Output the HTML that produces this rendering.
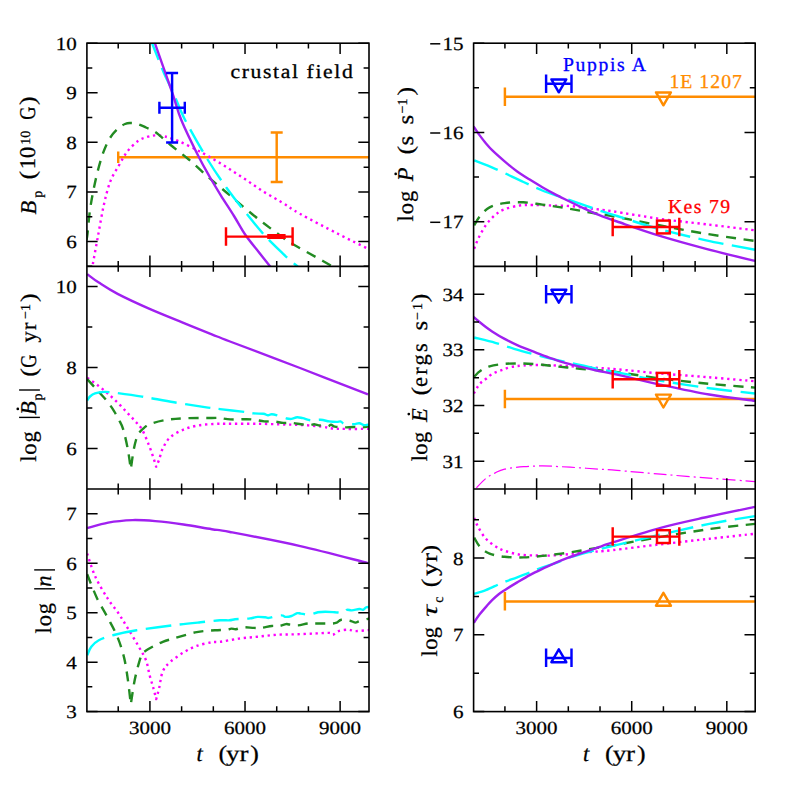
<!DOCTYPE html>
<html><head><meta charset="utf-8"><title>chart</title>
<style>
html,body{margin:0;padding:0;background:#fff;}
body{width:797px;height:797px;overflow:hidden;}
svg{display:block;opacity:0.999;}
.tk{font-family:"Liberation Serif",serif;font-size:18.6px;fill:#000;stroke:#000;stroke-width:0.25px;}
text{text-rendering:geometricPrecision;}
.sf{font-family:"Liberation Serif",serif;}
</style></head><body>
<svg width="797" height="797" viewBox="0 0 797 797">
<rect width="797" height="797" fill="#fff"/>
<defs>
<clipPath id="cTL"><rect x="86.9" y="43.2" width="282.10" height="223.10"/></clipPath>
<clipPath id="cML"><rect x="86.9" y="266.3" width="282.10" height="222.70"/></clipPath>
<clipPath id="cBL"><rect x="86.9" y="489.0" width="282.10" height="222.60"/></clipPath>
<clipPath id="cTR"><rect x="473.6" y="43.2" width="281.60" height="223.10"/></clipPath>
<clipPath id="cMR"><rect x="473.6" y="266.3" width="281.60" height="222.70"/></clipPath>
<clipPath id="cBR"><rect x="473.6" y="489.0" width="281.60" height="222.60"/></clipPath>
</defs>
<g clip-path="url(#cTL)">
<path d="M118.2,157.2H374.0 M118.2,151.5v11.5" stroke="#ff8c00" stroke-width="2.45" fill="none"/>
<path d="M276.7,132.4V182.0 M270.7,132.4h12 M270.7,182.0h12" stroke="#ff8c00" stroke-width="2.45" fill="none"/>
<path d="M92.0,270.0 C92.1,269.1 91.8,270.0 92.8,264.4 C93.8,258.8 96.1,246.2 97.9,236.6 C99.7,226.9 101.5,215.6 103.5,206.5 C105.5,197.4 107.6,188.8 110.1,182.0 C112.6,175.2 115.8,171.0 118.6,166.0 C121.4,161.0 123.8,156.1 127.0,151.9 C130.2,147.7 134.7,143.5 138.0,141.0 C141.3,138.5 144.1,137.9 147.0,137.0 C149.9,136.1 152.3,135.5 155.3,135.4 C158.3,135.3 161.3,135.6 165.0,136.5 C168.7,137.4 173.0,138.9 177.5,140.7 C182.0,142.5 187.0,145.0 192.0,147.5 C197.0,150.0 201.8,152.5 207.6,155.8 C213.3,159.1 220.2,163.2 226.5,167.1 C232.8,171.0 239.0,175.2 245.3,179.3 C251.6,183.5 257.8,188.1 264.1,192.0 C270.4,195.9 276.9,199.3 282.9,203.0 C288.9,206.7 291.1,208.9 300.3,214.0 C309.5,219.1 326.6,228.0 337.9,233.8 C349.2,239.6 362.3,245.9 368.0,248.8 C373.7,251.7 371.3,250.6 372.0,251.0" fill="none" stroke="#ff00ff" stroke-width="2.4" stroke-dasharray="2.3 3.7" stroke-dashoffset="0"/>
<path d="M86.5,240.0 C86.7,239.0 86.9,238.8 87.5,233.8 C88.1,228.8 89.0,217.1 90.0,210.0 C91.0,202.9 92.0,197.7 93.2,191.4 C94.5,185.1 95.8,178.6 97.5,172.0 C99.2,165.4 101.4,157.6 103.5,151.9 C105.6,146.2 107.6,141.9 110.0,138.0 C112.4,134.1 115.5,130.8 118.0,128.5 C120.5,126.2 123.0,124.9 125.0,124.0 C127.0,123.1 127.9,123.0 129.9,123.0 C131.9,123.0 134.3,123.0 137.0,123.8 C139.7,124.5 142.9,126.1 146.0,127.5 C149.1,128.9 151.3,129.2 155.3,132.0 C159.3,134.8 164.4,139.9 170.0,144.5 C175.6,149.1 182.5,154.2 188.8,159.5 C195.1,164.8 201.3,171.0 207.6,176.5 C213.9,182.0 220.2,187.2 226.5,192.5 C232.8,197.8 239.0,203.3 245.3,208.5 C251.6,213.7 257.8,218.7 264.1,223.5 C270.4,228.3 278.4,234.3 282.9,237.6 C287.4,240.8 284.2,239.1 290.9,243.0 C297.6,246.9 315.5,256.8 322.9,261.0 C330.2,265.2 333.0,266.8 335.0,268.0" fill="none" stroke="#228b22" stroke-width="2.4" stroke-dasharray="10 7.6" stroke-dashoffset="0"/>
<path d="M149.5,36.0 C149.9,37.2 149.7,37.1 152.1,43.2 C154.5,49.3 160.3,64.6 163.8,72.7 C167.3,80.8 169.4,84.1 173.0,92.0 C176.6,99.9 179.3,108.8 185.1,120.0 C190.9,131.2 200.7,148.2 207.6,159.5 C214.5,170.8 220.2,179.0 226.5,187.8 C232.8,196.6 239.0,204.4 245.3,212.2 C251.6,220.0 257.8,227.9 264.1,234.8 C270.4,241.7 278.6,249.4 282.9,253.6 C287.2,257.8 287.6,258.1 290.0,260.2 C292.4,262.3 295.5,264.8 297.5,266.5 C299.5,268.2 301.2,269.8 302.0,270.5" fill="none" stroke="#00ffff" stroke-width="2.4" stroke-dasharray="25.5 8.5" stroke-dashoffset="0"/>
<path d="M152.5,36.0 C152.9,37.2 151.6,33.8 154.9,43.2 C158.2,52.6 167.8,79.7 172.2,92.5 C176.6,105.3 177.0,109.5 181.3,120.0 C185.6,130.6 193.5,146.4 198.2,155.8 C202.9,165.2 205.7,169.9 209.5,176.5 C213.3,183.1 216.7,188.7 220.8,195.3 C224.9,201.9 229.9,209.4 234.0,216.0 C238.1,222.6 241.2,228.8 245.3,234.8 C249.4,240.8 254.4,246.6 258.5,251.8 C262.6,257.0 267.2,262.7 269.8,265.9 C272.4,269.1 273.3,270.1 274.0,271.0" fill="none" stroke="#a020f0" stroke-width="2.4"/>
<path d="M172.1,72.9V142.4 M166.1,72.9h12 M166.1,142.4h12" stroke="#0000ff" stroke-width="2.45" fill="none"/>
<path d="M159.4,107.7H184.8 M159.4,101.7v12 M184.8,101.7v12" stroke="#0000ff" stroke-width="2.45" fill="none"/>
<path d="M226.0,236.6H292.6 M226.0,227.3v18.5 M292.6,227.3v18.5" stroke="#ff0000" stroke-width="2.45" fill="none"/>
<path d="M267.2,236.6H285.6" stroke="#ff0000" stroke-width="5"/>
</g>
<path d="M118.22,43.20v5.4 M118.22,266.30v-5.4 M149.92,43.20v10.7 M149.92,266.30v-10.7 M181.62,43.20v5.4 M181.62,266.30v-5.4 M213.32,43.20v5.4 M213.32,266.30v-5.4 M245.02,43.20v10.7 M245.02,266.30v-10.7 M276.72,43.20v5.4 M276.72,266.30v-5.4 M308.42,43.20v5.4 M308.42,266.30v-5.4 M340.12,43.20v10.7 M340.12,266.30v-10.7 M86.90,241.51h10.7 M369.00,241.51h-10.7 M86.90,191.93h10.7 M369.00,191.93h-10.7 M86.90,142.36h10.7 M369.00,142.36h-10.7 M86.90,92.78h10.7 M369.00,92.78h-10.7 M86.90,43.20h10.7 M369.00,43.20h-10.7 M86.90,266.30h5.4 M369.00,266.30h-5.4 M86.90,216.72h5.4 M369.00,216.72h-5.4 M86.90,167.14h5.4 M369.00,167.14h-5.4 M86.90,117.57h5.4 M369.00,117.57h-5.4 M86.90,67.99h5.4 M369.00,67.99h-5.4" stroke="#000" stroke-width="1.5" fill="none"/>
<text transform="translate(76.7,247.9) scale(1.13,1)" text-anchor="end" class="tk">6</text>
<text transform="translate(76.7,198.3) scale(1.13,1)" text-anchor="end" class="tk">7</text>
<text transform="translate(76.7,148.8) scale(1.13,1)" text-anchor="end" class="tk">8</text>
<text transform="translate(76.7,99.2) scale(1.13,1)" text-anchor="end" class="tk">9</text>
<text transform="translate(76.7,49.6) scale(1.13,1)" text-anchor="end" class="tk">10</text>
<g clip-path="url(#cML)">
<path d="M87.2,377.8 C89.0,379.1 94.5,382.8 98.0,385.5 C101.5,388.2 104.9,390.9 108.2,393.8 C111.5,396.7 114.8,399.9 118.0,403.0 C121.2,406.1 124.3,409.6 127.1,412.6 C129.9,415.6 132.5,418.2 135.0,421.0 C137.5,423.8 139.8,425.7 142.1,429.6 C144.4,433.5 146.8,439.9 148.7,444.6 C150.6,449.3 152.2,454.1 153.4,457.8 C154.7,461.5 155.7,465.2 156.2,466.7 C156.7,465.5 158.0,462.8 159.1,459.7 C160.2,456.6 160.9,452.2 162.8,448.4 C164.7,444.6 166.9,440.2 170.3,437.1 C173.8,434.0 178.8,431.6 183.5,429.6 C188.2,427.7 193.3,426.3 198.6,425.4 C203.9,424.4 210.3,424.2 215.5,423.9 C220.7,423.6 223.0,423.8 230.0,423.8 C237.0,423.8 248.3,423.7 257.6,423.8 C266.9,423.9 278.0,424.3 285.9,424.5 C293.8,424.7 298.8,424.8 304.7,425.1 C310.6,425.5 316.9,426.0 321.6,426.6 C326.3,427.2 329.1,428.1 332.9,428.5 C336.7,428.9 338.4,428.8 344.2,428.9 C350.0,429.0 363.5,428.9 367.8,428.9 C372.1,428.9 369.6,428.9 370.0,428.9" fill="none" stroke="#ff00ff" stroke-width="2.4" stroke-linejoin="round" stroke-dasharray="2.3 3.7" stroke-dashoffset="0"/>
<path d="M87.2,379.1 C89.1,381.2 95.5,388.2 98.8,391.9 C102.1,395.5 104.5,397.9 107.0,401.0 C109.5,404.1 111.9,407.6 113.9,410.8 C115.9,414.0 117.4,416.9 119.0,420.0 C120.6,423.1 121.8,424.6 123.3,429.6 C124.8,434.7 126.8,443.7 128.0,450.3 C129.2,456.9 130.3,466.0 130.8,469.1 C131.3,466.0 132.7,455.2 133.6,450.3 C134.5,445.4 135.2,442.7 136.0,440.0 C136.8,437.3 137.8,435.0 138.2,434.0 C138.8,433.3 140.2,431.2 142.1,429.6 C144.0,428.0 145.8,425.9 149.6,424.3 C153.4,422.7 159.0,421.2 164.7,420.2 C170.3,419.2 175.7,418.7 183.5,418.3 C191.3,417.9 205.7,418.1 211.8,418.0 C217.9,417.9 217.4,417.8 220.0,418.0 C222.6,418.2 224.7,418.9 227.5,419.1 C230.3,419.4 233.8,419.5 236.9,419.5 C240.1,419.5 243.4,419.1 246.4,419.1 C249.4,419.2 251.8,419.4 254.8,419.8 C257.8,420.2 261.1,421.1 264.2,421.4 C267.3,421.7 270.5,421.1 273.6,421.4 C276.8,421.6 280.1,422.6 283.1,422.9 C286.1,423.1 288.5,422.7 291.5,422.9 C294.5,423.1 297.9,423.8 300.9,424.2 C303.9,424.6 307.2,425.1 309.4,425.1 C311.6,425.1 312.7,424.2 314.1,424.2 C315.5,424.2 315.7,424.7 317.9,425.1 C320.1,425.5 325.1,426.7 327.3,426.6 C329.5,426.5 329.8,424.7 331.0,424.7 C332.2,424.7 332.8,426.2 334.8,426.6 C336.9,427.1 340.2,427.3 343.3,427.4 C346.4,427.5 350.5,427.0 353.6,427.0 C356.7,427.0 359.7,427.5 362.1,427.4 C364.5,427.3 366.5,426.8 367.8,426.6 C369.1,426.5 369.6,426.5 370.0,426.5" fill="none" stroke="#228b22" stroke-width="2.4" stroke-linejoin="round" stroke-dasharray="10 7.6" stroke-dashoffset="0"/>
<path d="M87.2,400.4 C87.7,399.8 88.7,397.7 90.0,396.5 C91.3,395.3 92.6,394.1 95.0,393.3 C97.4,392.5 101.2,392.0 104.5,391.9 C107.8,391.8 108.7,392.0 115.0,392.8 C121.3,393.6 132.2,395.0 142.1,396.6 C151.9,398.2 163.1,400.5 174.1,402.3 C185.1,404.1 200.3,406.5 208.0,407.6 C215.7,408.7 213.9,408.4 220.0,409.1 C226.1,409.8 238.8,411.2 244.5,411.9 C250.2,412.6 250.8,413.1 253.9,413.4 C257.0,413.7 260.9,413.5 263.3,413.8 C265.7,414.1 266.6,415.2 268.0,415.3 C269.4,415.4 270.1,414.1 271.8,414.2 C273.5,414.3 275.8,415.0 278.3,415.7 C280.8,416.4 284.6,418.0 286.8,418.5 C289.0,419.0 289.8,419.1 291.5,418.9 C293.2,418.7 295.3,417.3 297.2,417.2 C299.1,417.1 300.4,417.7 302.8,418.2 C305.2,418.7 308.3,420.1 311.3,420.4 C314.3,420.7 317.7,419.6 320.7,419.8 C323.7,420.0 326.5,421.0 329.2,421.4 C331.9,421.8 334.8,421.9 336.7,421.9 C338.6,421.9 339.2,421.1 340.5,421.4 C341.8,421.7 342.0,423.1 344.2,423.6 C346.4,424.1 351.1,424.3 353.6,424.2 C356.1,424.1 357.6,423.0 359.3,423.2 C361.0,423.4 362.6,424.9 364.0,425.1 C365.4,425.4 366.8,424.8 367.8,424.7 C368.8,424.6 369.6,424.7 370.0,424.7" fill="none" stroke="#00ffff" stroke-width="2.4" stroke-dasharray="25.5 8.5" stroke-dashoffset="0"/>
<path d="M87.2,274.1 C89.1,275.5 93.7,279.3 98.8,282.6 C103.9,285.9 109.1,289.5 117.6,293.9 C126.1,298.3 138.9,304.2 149.6,308.9 C160.3,313.6 171.2,317.9 181.6,322.1 C192.0,326.3 203.7,331.1 211.8,334.3 C219.9,337.5 215.3,335.9 230.0,341.5 C244.7,347.1 277.0,359.2 300.0,368.0 C323.0,376.8 356.7,390.0 368.0,394.4" fill="none" stroke="#a020f0" stroke-width="2.4"/>
</g>
<path d="M118.22,266.30v5.4 M118.22,489.00v-5.4 M149.92,266.30v10.7 M149.92,489.00v-10.7 M181.62,266.30v5.4 M181.62,489.00v-5.4 M213.32,266.30v5.4 M213.32,489.00v-5.4 M245.02,266.30v10.7 M245.02,489.00v-10.7 M276.72,266.30v5.4 M276.72,489.00v-5.4 M308.42,266.30v5.4 M308.42,489.00v-5.4 M340.12,266.30v10.7 M340.12,489.00v-10.7 M86.90,448.51h10.7 M369.00,448.51h-10.7 M86.90,367.53h10.7 M369.00,367.53h-10.7 M86.90,286.55h10.7 M369.00,286.55h-10.7 M86.90,408.02h5.4 M369.00,408.02h-5.4 M86.90,327.04h5.4 M369.00,327.04h-5.4" stroke="#000" stroke-width="1.5" fill="none"/>
<text transform="translate(76.7,454.9) scale(1.13,1)" text-anchor="end" class="tk">6</text>
<text transform="translate(76.7,373.9) scale(1.13,1)" text-anchor="end" class="tk">8</text>
<text transform="translate(76.7,292.9) scale(1.13,1)" text-anchor="end" class="tk">10</text>
<g clip-path="url(#cBL)">
<path d="M87.2,553.6 C88.5,557.4 91.8,568.8 95.1,576.2 C98.4,583.6 103.5,591.9 107.3,597.9 C111.0,603.9 114.3,607.1 117.6,612.0 C120.9,616.9 123.6,621.5 127.1,627.1 C130.6,632.8 135.2,640.4 138.3,645.9 C141.4,651.4 144.0,655.1 145.9,660.0 C147.8,664.9 148.3,670.3 149.6,675.0 C150.8,679.7 152.3,684.2 153.4,688.2 C154.5,692.2 155.7,697.3 156.2,699.1 C156.7,697.3 158.0,692.8 159.1,688.2 C160.2,683.6 160.9,675.7 162.8,671.3 C164.7,666.9 166.9,665.0 170.3,661.9 C173.8,658.8 179.1,655.2 183.5,652.5 C187.9,649.8 192.0,647.6 196.7,645.9 C201.4,644.2 207.9,643.0 211.8,642.3 C215.7,641.6 215.5,642.4 220.0,641.8 C224.5,641.2 232.5,639.5 238.8,638.6 C245.1,637.8 251.3,637.3 257.6,636.7 C263.9,636.1 270.2,635.2 276.5,634.8 C282.8,634.4 289.0,634.5 295.3,634.3 C301.6,634.1 308.5,633.7 314.1,633.5 C319.8,633.3 326.1,632.7 329.2,632.9 C332.3,633.1 331.3,635.1 332.9,634.8 C334.5,634.5 336.1,632.0 338.6,631.1 C341.1,630.2 345.2,629.7 348.0,629.7 C350.8,629.7 352.2,631.0 355.5,631.1 C358.8,631.2 365.4,630.3 367.8,630.1 C370.2,629.9 369.6,630.0 370.0,630.0" fill="none" stroke="#ff00ff" stroke-width="2.4" stroke-linejoin="round" stroke-dasharray="2.3 3.7" stroke-dashoffset="0"/>
<path d="M87.2,574.3 C88.8,578.2 93.4,590.5 96.9,597.9 C100.4,605.3 104.8,612.0 108.2,618.6 C111.7,625.2 114.9,630.8 117.6,637.4 C120.3,644.0 122.5,650.9 124.2,658.1 C125.9,665.3 126.9,673.0 128.0,680.7 C129.1,688.4 130.3,700.3 130.8,704.2 C131.3,701.2 132.7,691.4 133.6,686.0 C134.5,680.6 135.5,676.2 136.5,672.0 C137.5,667.8 138.6,664.1 139.5,661.0 C140.4,657.9 141.7,654.4 142.1,653.1 C143.1,652.5 145.8,650.6 148.0,649.3 C150.2,648.0 152.8,646.5 155.3,645.3 C157.8,644.0 159.7,643.0 162.8,641.8 C165.9,640.6 168.4,639.9 174.1,638.3 C179.8,636.7 189.9,633.4 196.7,632.1 C203.5,630.8 210.0,630.7 215.0,630.3 C220.0,629.9 223.9,630.0 226.6,629.7 C229.3,629.4 229.7,628.7 231.3,628.6 C232.9,628.5 234.0,629.4 236.0,629.2 C238.0,629.0 240.5,627.5 243.5,627.3 C246.5,627.1 250.9,627.8 253.9,627.9 C256.9,628.0 258.4,628.2 261.4,627.9 C264.4,627.6 268.8,626.3 271.8,626.0 C274.8,625.7 277.0,626.3 279.3,626.0 C281.6,625.7 284.2,624.4 285.9,624.1 C287.6,623.9 287.6,624.3 289.6,624.5 C291.6,624.7 295.1,625.6 298.1,625.4 C301.1,625.2 304.7,623.8 307.5,623.5 C310.3,623.2 312.0,623.5 315.0,623.5 C318.0,623.5 322.6,623.5 325.4,623.5 C328.2,623.5 330.1,623.6 332.0,623.5 C333.9,623.4 335.1,623.2 336.7,622.6 C338.3,622.0 339.2,620.1 341.4,619.8 C343.6,619.5 347.5,620.2 349.9,620.7 C352.2,621.2 353.9,622.5 355.5,622.6 C357.1,622.7 357.2,621.7 359.3,621.1 C361.4,620.5 366.0,619.2 367.8,618.8 C369.6,618.4 369.6,618.5 370.0,618.5" fill="none" stroke="#228b22" stroke-width="2.4" stroke-linejoin="round" stroke-dasharray="10 7.6" stroke-dashoffset="0"/>
<path d="M87.2,655.3 C87.9,653.9 89.4,649.3 91.3,646.8 C93.2,644.3 95.0,642.2 98.8,640.2 C102.6,638.2 107.6,636.6 113.9,635.0 C120.2,633.4 126.5,631.9 136.5,630.3 C146.5,628.7 163.4,626.5 174.1,625.2 C184.8,623.9 192.8,623.1 200.5,622.3 C208.2,621.5 215.2,620.6 220.0,620.3 C224.8,620.0 226.9,620.5 229.4,620.3 C231.9,620.1 232.8,619.5 235.1,619.2 C237.4,619.0 241.0,618.9 243.5,618.8 C246.0,618.7 247.8,618.7 250.1,618.4 C252.4,618.1 255.1,617.1 257.6,616.9 C260.1,616.7 263.3,617.1 265.2,617.3 C267.1,617.5 267.0,618.1 268.9,617.9 C270.8,617.7 274.3,616.4 276.5,616.0 C278.7,615.6 280.5,615.2 282.1,615.4 C283.7,615.5 284.3,616.8 285.9,616.9 C287.5,617.0 289.6,616.6 291.5,616.0 C293.4,615.4 295.6,613.6 297.2,613.2 C298.8,612.8 298.9,613.4 300.9,613.6 C302.9,613.9 306.6,614.9 309.4,614.7 C312.2,614.5 315.2,612.7 317.9,612.2 C320.6,611.7 322.6,611.7 325.4,611.7 C328.2,611.7 331.8,612.0 334.8,612.2 C337.8,612.4 341.3,613.2 343.3,612.8 C345.3,612.4 345.6,610.2 347.0,609.8 C348.4,609.4 349.8,610.5 351.8,610.4 C353.9,610.3 357.4,609.1 359.3,609.0 C361.2,608.9 361.9,610.0 363.0,609.8 C364.1,609.5 364.9,608.0 365.9,607.5 C366.9,607.0 368.5,607.1 369.0,607.0" fill="none" stroke="#00ffff" stroke-width="2.4" stroke-dasharray="25.5 8.5" stroke-dashoffset="0"/>
<path d="M87.2,528.2 C90.7,527.3 100.6,524.0 108.2,522.6 C115.8,521.2 124.8,520.4 132.7,520.1 C140.5,519.9 146.8,520.4 155.3,521.1 C163.8,521.8 174.1,523.1 183.5,524.5 C192.9,525.9 204.1,528.0 211.8,529.2 C219.6,530.5 215.2,529.2 230.0,532.0 C244.8,534.8 277.3,540.9 300.3,546.1 C323.3,551.3 356.7,560.3 368.0,563.1" fill="none" stroke="#a020f0" stroke-width="2.4"/>
</g>
<path d="M118.22,489.00v5.4 M118.22,711.60v-5.4 M149.92,489.00v10.7 M149.92,711.60v-10.7 M181.62,489.00v5.4 M181.62,711.60v-5.4 M213.32,489.00v5.4 M213.32,711.60v-5.4 M245.02,489.00v10.7 M245.02,711.60v-10.7 M276.72,489.00v5.4 M276.72,711.60v-5.4 M308.42,489.00v5.4 M308.42,711.60v-5.4 M340.12,489.00v10.7 M340.12,711.60v-10.7 M86.90,711.60h10.7 M369.00,711.60h-10.7 M86.90,662.13h10.7 M369.00,662.13h-10.7 M86.90,612.67h10.7 M369.00,612.67h-10.7 M86.90,563.20h10.7 M369.00,563.20h-10.7 M86.90,513.73h10.7 M369.00,513.73h-10.7 M86.90,686.87h5.4 M369.00,686.87h-5.4 M86.90,637.40h5.4 M369.00,637.40h-5.4 M86.90,587.93h5.4 M369.00,587.93h-5.4 M86.90,538.47h5.4 M369.00,538.47h-5.4" stroke="#000" stroke-width="1.5" fill="none"/>
<text transform="translate(76.7,718.0) scale(1.13,1)" text-anchor="end" class="tk">3</text>
<text transform="translate(76.7,668.5) scale(1.13,1)" text-anchor="end" class="tk">4</text>
<text transform="translate(76.7,619.1) scale(1.13,1)" text-anchor="end" class="tk">5</text>
<text transform="translate(76.7,569.6) scale(1.13,1)" text-anchor="end" class="tk">6</text>
<text transform="translate(76.7,520.1) scale(1.13,1)" text-anchor="end" class="tk">7</text>
<text transform="translate(149.9,733.6) scale(1.13,1)" text-anchor="middle" class="tk">3000</text>
<text transform="translate(245.0,733.6) scale(1.13,1)" text-anchor="middle" class="tk">6000</text>
<text transform="translate(340.1,733.6) scale(1.13,1)" text-anchor="middle" class="tk">9000</text>
<g clip-path="url(#cTR)">
<path d="M504.9,96.7H760.2 M504.9,87.5v18.5" stroke="#ff8c00" stroke-width="2.45" fill="none"/>
<path d="M663.4,105.3L656.0,92.4L670.9,92.4Z" stroke="#ff8c00" stroke-width="2.45" fill="none" stroke-linejoin="round"/>
<path d="M474.2,248.8 C474.9,247.1 476.4,242.4 478.3,238.5 C480.2,234.6 483.0,229.2 485.8,225.3 C488.6,221.4 492.1,217.6 495.2,214.9 C498.3,212.2 500.5,210.9 504.6,209.3 C508.7,207.7 515.0,206.2 519.7,205.5 C524.4,204.8 527.6,205.0 532.9,205.0 C538.2,205.0 545.4,205.3 551.7,205.5 C558.0,205.7 564.2,205.6 570.5,206.1 C576.8,206.6 582.4,207.5 589.3,208.3 C596.2,209.2 600.4,209.5 612.0,211.2 C623.6,212.9 643.4,216.5 659.1,218.7 C674.8,220.9 690.1,222.4 706.1,224.3 C722.1,226.2 746.9,229.3 755.0,230.3" fill="none" stroke="#ff00ff" stroke-width="2.4" stroke-dasharray="2.3 3.7" stroke-dashoffset="0"/>
<path d="M474.2,225.3 C475.2,223.7 477.6,218.9 480.2,215.9 C482.8,212.9 485.5,209.5 489.6,207.4 C493.7,205.3 499.0,203.9 504.6,203.1 C510.2,202.2 517.2,202.1 523.5,202.3 C529.8,202.6 536.0,203.8 542.3,204.6 C548.6,205.4 554.8,206.4 561.1,207.4 C567.4,208.4 573.6,209.5 579.9,210.6 C586.2,211.7 593.4,213.1 598.8,214.0 C604.1,214.9 602.0,214.1 612.0,216.0 C622.0,217.9 643.4,222.3 659.1,225.3 C674.8,228.3 690.1,231.2 706.1,233.8 C722.1,236.4 746.9,239.8 755.0,241.0" fill="none" stroke="#228b22" stroke-width="2.4" stroke-dasharray="10 7.6" stroke-dashoffset="0"/>
<path d="M474.2,160.4 C477.7,161.8 487.0,165.2 495.2,168.8 C503.4,172.4 515.6,178.4 523.5,182.0 C531.4,185.6 536.0,188.0 542.3,190.5 C548.6,193.0 554.8,194.9 561.1,197.1 C567.4,199.3 573.6,201.4 579.9,203.6 C586.2,205.8 592.6,208.1 598.8,210.2 C605.0,212.3 607.0,212.9 617.0,216.0 C627.0,219.1 644.2,224.9 659.1,229.0 C674.0,233.1 690.1,236.8 706.1,240.3 C722.1,243.8 746.9,248.2 755.0,249.8" fill="none" stroke="#00ffff" stroke-width="2.4" stroke-dasharray="25.5 8.5" stroke-dashoffset="0"/>
<path d="M473.5,126.3 C474.5,127.8 477.4,132.3 479.5,135.1 C481.6,137.9 483.7,140.7 485.8,143.2 C487.9,145.7 489.0,147.2 492.1,150.2 C495.2,153.2 500.4,157.8 504.6,161.4 C508.8,165.0 513.0,168.5 517.2,171.5 C521.4,174.5 525.5,177.0 529.7,179.6 C533.9,182.2 538.1,184.8 542.3,187.2 C546.5,189.6 550.7,191.9 554.8,194.1 C558.9,196.3 562.8,198.2 567.0,200.3 C571.2,202.4 574.6,204.1 579.9,206.5 C585.2,208.9 592.6,212.4 598.8,214.9 C605.0,217.4 607.0,218.1 617.0,221.5 C627.0,224.9 644.2,231.0 659.1,235.6 C674.0,240.2 690.1,244.6 706.1,248.8 C722.1,253.0 746.9,259.0 755.0,261.0" fill="none" stroke="#a020f0" stroke-width="2.4"/>
<path d="M546.1,83.7H571.5 M546.1,74.5v18.5 M571.5,74.5v18.5" stroke="#0000ff" stroke-width="2.45" fill="none"/>
<path d="M558.8,92.3L551.4,79.4L566.3,79.4Z" stroke="#0000ff" stroke-width="2.45" fill="none" stroke-linejoin="round"/>
<path d="M612.7,227.0H679.3 M612.7,217.8v18.5 M679.3,217.8v18.5" stroke="#ff0000" stroke-width="2.45" fill="none"/>
<rect x="657.0" y="220.6" width="12.8" height="12.8" stroke="#ff0000" stroke-width="2.45" fill="none"/>
</g>
<path d="M504.92,43.20v5.4 M504.92,266.30v-5.4 M536.62,43.20v10.7 M536.62,266.30v-10.7 M568.32,43.20v5.4 M568.32,266.30v-5.4 M600.02,43.20v5.4 M600.02,266.30v-5.4 M631.72,43.20v10.7 M631.72,266.30v-10.7 M663.42,43.20v5.4 M663.42,266.30v-5.4 M695.12,43.20v5.4 M695.12,266.30v-5.4 M726.82,43.20v10.7 M726.82,266.30v-10.7 M473.60,221.68h10.7 M755.20,221.68h-10.7 M473.60,132.44h10.7 M755.20,132.44h-10.7 M473.60,43.20h10.7 M755.20,43.20h-10.7 M473.60,177.06h5.4 M755.20,177.06h-5.4 M473.60,87.82h5.4 M755.20,87.82h-5.4" stroke="#000" stroke-width="1.5" fill="none"/>
<text transform="translate(463.4,228.1) scale(1.13,1)" text-anchor="end" class="tk">17</text>
<path d="M430.2,222.3h10.1" stroke="#000" stroke-width="1.5" fill="none"/>
<text transform="translate(463.4,138.8) scale(1.13,1)" text-anchor="end" class="tk">16</text>
<path d="M430.2,133.0h10.1" stroke="#000" stroke-width="1.5" fill="none"/>
<text transform="translate(463.4,49.6) scale(1.13,1)" text-anchor="end" class="tk">15</text>
<path d="M430.2,43.8h10.1" stroke="#000" stroke-width="1.5" fill="none"/>
<g clip-path="url(#cMR)">
<path d="M504.9,398.9H760.2 M504.9,389.7v18.5" stroke="#ff8c00" stroke-width="2.45" fill="none"/>
<path d="M663.4,407.5L656.0,394.6L670.9,394.6Z" stroke="#ff8c00" stroke-width="2.45" fill="none" stroke-linejoin="round"/>
<path d="M476.4,487.9 C478.0,486.3 482.7,481.0 485.8,478.5 C488.9,476.0 492.1,474.5 495.2,472.9 C498.3,471.3 499.9,470.1 504.6,469.1 C509.3,468.1 517.2,467.2 523.5,466.7 C529.8,466.2 536.0,465.9 542.3,465.9 C548.6,465.9 554.8,466.4 561.1,466.7 C567.4,467.0 573.6,467.4 579.9,467.8 C586.2,468.2 592.6,468.7 598.8,469.1 C605.0,469.5 606.7,469.5 617.0,470.4 C627.3,471.2 645.2,472.9 660.6,474.2 C676.0,475.5 693.5,476.9 709.2,478.1 C724.9,479.3 747.4,481.0 755.0,481.6" fill="none" stroke="#ff00ff" stroke-width="1.2" stroke-dasharray="13 4 2 4" stroke-dashoffset="0"/>
<path d="M473.9,393.5 C474.4,392.6 475.9,389.6 477.0,387.8 C478.1,386.0 479.3,384.3 480.8,382.8 C482.3,381.3 483.9,380.5 485.8,379.0 C487.7,377.5 489.6,375.4 492.1,374.0 C494.6,372.6 497.8,371.4 500.9,370.3 C504.0,369.2 507.1,367.9 510.9,367.1 C514.7,366.3 518.3,365.9 523.5,365.5 C528.7,365.1 536.0,364.9 542.3,365.0 C548.6,365.1 553.3,365.4 561.1,365.8 C568.9,366.2 580.0,366.7 589.3,367.3 C598.6,367.9 605.1,368.3 617.0,369.3 C628.9,370.3 645.2,372.2 660.6,373.5 C676.0,374.8 693.5,376.0 709.2,377.3 C724.9,378.6 747.4,380.6 755.0,381.2" fill="none" stroke="#ff00ff" stroke-width="2.4" stroke-dasharray="2.3 3.7" stroke-dashoffset="0"/>
<path d="M474.2,376.7 C475.2,375.8 477.6,372.7 480.2,371.0 C482.8,369.3 485.5,367.5 489.6,366.3 C493.7,365.1 499.0,364.4 504.6,363.9 C510.2,363.4 517.2,363.4 523.5,363.5 C529.8,363.6 536.0,364.2 542.3,364.8 C548.6,365.4 554.8,366.2 561.1,366.9 C567.4,367.6 571.4,368.0 579.9,368.8 C588.4,369.6 598.5,369.9 612.0,371.5 C625.5,373.1 644.4,376.4 660.6,378.5 C676.8,380.6 693.5,382.3 709.2,383.8 C724.9,385.3 747.4,387.0 755.0,387.6" fill="none" stroke="#228b22" stroke-width="2.4" stroke-dasharray="10 7.6" stroke-dashoffset="0"/>
<path d="M474.2,337.5 C477.7,338.4 488.5,340.9 495.2,342.8 C501.9,344.7 507.8,346.9 514.1,348.8 C520.4,350.7 526.6,352.4 532.9,354.1 C539.2,355.8 543.9,357.0 551.7,358.8 C559.5,360.6 572.0,363.3 579.9,365.0 C587.8,366.7 592.6,368.0 598.8,369.2 C605.0,370.4 606.7,370.5 617.0,372.4 C627.3,374.3 645.2,378.2 660.6,380.8 C676.0,383.4 693.5,386.1 709.2,388.2 C724.9,390.3 747.4,392.6 755.0,393.5" fill="none" stroke="#00ffff" stroke-width="2.4" stroke-dasharray="25.5 8.5" stroke-dashoffset="0"/>
<path d="M473.5,316.9 C474.5,317.8 477.4,320.3 479.5,322.0 C481.6,323.7 483.7,325.4 485.8,327.0 C487.9,328.6 489.0,329.4 492.1,331.4 C495.2,333.4 500.4,336.6 504.6,338.9 C508.8,341.2 513.0,343.3 517.2,345.2 C521.4,347.1 525.5,348.5 529.7,350.2 C533.9,351.9 538.1,353.6 542.3,355.2 C546.5,356.8 550.7,358.2 554.8,359.6 C558.9,361.0 562.8,362.2 567.0,363.4 C571.2,364.6 574.6,365.4 579.9,366.7 C585.2,368.0 592.6,369.7 598.8,371.0 C605.0,372.3 606.7,372.3 617.0,374.6 C627.3,376.9 645.2,381.4 660.6,384.7 C676.0,388.0 693.5,391.8 709.2,394.5 C724.9,397.2 747.4,399.8 755.0,400.9" fill="none" stroke="#a020f0" stroke-width="2.4"/>
<path d="M546.1,294.1H571.5 M546.1,284.9v18.5 M571.5,284.9v18.5" stroke="#0000ff" stroke-width="2.45" fill="none"/>
<path d="M558.8,302.7L551.4,289.8L566.3,289.8Z" stroke="#0000ff" stroke-width="2.45" fill="none" stroke-linejoin="round"/>
<path d="M612.7,379.3H679.3 M612.7,370.1v18.5 M679.3,370.1v18.5" stroke="#ff0000" stroke-width="2.45" fill="none"/>
<rect x="657.0" y="372.9" width="12.8" height="12.8" stroke="#ff0000" stroke-width="2.45" fill="none"/>
</g>
<path d="M504.92,266.30v5.4 M504.92,489.00v-5.4 M536.62,266.30v10.7 M536.62,489.00v-10.7 M568.32,266.30v5.4 M568.32,489.00v-5.4 M600.02,266.30v5.4 M600.02,489.00v-5.4 M631.72,266.30v10.7 M631.72,489.00v-10.7 M663.42,266.30v5.4 M663.42,489.00v-5.4 M695.12,266.30v5.4 M695.12,489.00v-5.4 M726.82,266.30v10.7 M726.82,489.00v-10.7 M473.60,461.16h10.7 M755.20,461.16h-10.7 M473.60,405.49h10.7 M755.20,405.49h-10.7 M473.60,349.81h10.7 M755.20,349.81h-10.7 M473.60,294.14h10.7 M755.20,294.14h-10.7 M473.60,433.32h5.4 M755.20,433.32h-5.4 M473.60,377.65h5.4 M755.20,377.65h-5.4 M473.60,321.98h5.4 M755.20,321.98h-5.4" stroke="#000" stroke-width="1.5" fill="none"/>
<text transform="translate(463.4,467.6) scale(1.13,1)" text-anchor="end" class="tk">31</text>
<text transform="translate(463.4,411.9) scale(1.13,1)" text-anchor="end" class="tk">32</text>
<text transform="translate(463.4,356.2) scale(1.13,1)" text-anchor="end" class="tk">33</text>
<text transform="translate(463.4,300.5) scale(1.13,1)" text-anchor="end" class="tk">34</text>
<g clip-path="url(#cBR)">
<path d="M504.9,601.4H760.2 M504.9,592.1v18.5" stroke="#ff8c00" stroke-width="2.45" fill="none"/>
<path d="M663.4,592.8L656.0,605.7L670.9,605.7Z" stroke="#ff8c00" stroke-width="2.45" fill="none" stroke-linejoin="round"/>
<path d="M474.2,517.9 C474.9,519.5 476.4,523.8 478.3,527.3 C480.2,530.8 483.0,535.5 485.8,538.6 C488.6,541.7 492.1,544.1 495.2,546.1 C498.3,548.1 500.5,549.4 504.6,550.8 C508.7,552.2 514.4,553.8 519.7,554.6 C525.0,555.4 531.3,555.4 536.6,555.5 C541.9,555.6 546.1,555.8 551.7,555.5 C557.4,555.2 564.2,554.6 570.5,554.0 C576.8,553.4 582.4,552.7 589.3,552.1 C596.2,551.5 600.1,551.5 612.0,550.2 C623.9,548.9 644.4,546.2 660.6,544.3 C676.8,542.4 693.5,540.5 709.2,538.8 C724.9,537.0 747.4,534.6 755.0,533.8" fill="none" stroke="#ff00ff" stroke-width="2.4" stroke-dasharray="2.3 3.7" stroke-dashoffset="0"/>
<path d="M474.2,537.6 C475.2,539.2 477.6,544.4 480.2,547.1 C482.8,549.8 485.5,552.0 489.6,553.6 C493.7,555.2 499.0,556.2 504.6,556.8 C510.2,557.4 517.2,557.5 523.5,557.4 C529.8,557.2 536.0,556.5 542.3,555.9 C548.6,555.3 554.8,554.5 561.1,553.6 C567.4,552.8 573.6,551.8 579.9,550.8 C586.2,549.8 593.4,548.5 598.8,547.6 C604.1,546.7 601.7,547.4 612.0,545.6 C622.3,543.8 644.4,539.6 660.6,536.9 C676.8,534.1 693.5,531.3 709.2,529.1 C724.9,526.9 747.4,524.8 755.0,523.9" fill="none" stroke="#228b22" stroke-width="2.4" stroke-dasharray="10 7.6" stroke-dashoffset="0"/>
<path d="M473.9,593.9 C475.9,593.3 481.7,591.8 485.8,590.2 C489.9,588.6 495.0,586.0 498.4,584.5 C501.8,583.0 502.8,582.6 505.9,581.4 C509.0,580.2 513.2,578.9 517.2,577.4 C521.2,575.9 526.2,574.0 529.7,572.6 C533.2,571.2 534.3,570.3 538.5,568.8 C542.7,567.3 549.5,565.3 554.8,563.4 C560.1,561.5 564.8,559.1 570.5,557.2 C576.2,555.3 582.4,553.6 589.3,551.8 C596.2,550.0 600.1,549.1 612.0,546.2 C623.9,543.3 644.4,538.3 660.6,534.6 C676.8,530.9 693.5,527.0 709.2,523.9 C724.9,520.8 747.4,517.4 755.0,516.1" fill="none" stroke="#00ffff" stroke-width="2.4" stroke-dasharray="25.5 8.5" stroke-dashoffset="0"/>
<path d="M473.9,622.8 C474.8,621.4 477.5,617.2 479.5,614.6 C481.5,612.0 483.7,609.5 485.8,607.1 C487.9,604.7 490.0,602.3 492.1,600.2 C494.2,598.1 496.3,596.2 498.4,594.5 C500.5,592.8 501.5,592.2 504.6,590.2 C507.7,588.2 513.0,584.9 517.2,582.4 C521.4,579.9 525.5,577.4 529.7,575.1 C533.9,572.8 538.1,570.8 542.3,568.8 C546.5,566.8 550.7,565.0 554.8,563.2 C558.9,561.4 562.8,559.8 567.0,558.2 C571.2,556.6 574.6,555.5 579.9,553.6 C585.2,551.8 593.4,548.9 598.8,547.1 C604.1,545.3 601.7,545.8 612.0,542.6 C622.3,539.4 644.4,532.1 660.6,527.8 C676.8,523.4 693.5,520.0 709.2,516.5 C724.9,513.0 747.4,508.5 755.0,506.9" fill="none" stroke="#a020f0" stroke-width="2.4"/>
<path d="M546.1,657.9H571.5 M546.1,648.6v18.5 M571.5,648.6v18.5" stroke="#0000ff" stroke-width="2.45" fill="none"/>
<path d="M558.8,649.3L551.4,662.2L566.3,662.2Z" stroke="#0000ff" stroke-width="2.45" fill="none" stroke-linejoin="round"/>
<path d="M612.7,536.6H679.3 M612.7,527.3v18.5 M679.3,527.3v18.5" stroke="#ff0000" stroke-width="2.45" fill="none"/>
<rect x="657.0" y="530.2" width="12.8" height="12.8" stroke="#ff0000" stroke-width="2.45" fill="none"/>
</g>
<path d="M504.92,489.00v5.4 M504.92,711.60v-5.4 M536.62,489.00v10.7 M536.62,711.60v-10.7 M568.32,489.00v5.4 M568.32,711.60v-5.4 M600.02,489.00v5.4 M600.02,711.60v-5.4 M631.72,489.00v10.7 M631.72,711.60v-10.7 M663.42,489.00v5.4 M663.42,711.60v-5.4 M695.12,489.00v5.4 M695.12,711.60v-5.4 M726.82,489.00v10.7 M726.82,711.60v-10.7 M473.60,711.60h10.7 M755.20,711.60h-10.7 M473.60,634.84h10.7 M755.20,634.84h-10.7 M473.60,558.08h10.7 M755.20,558.08h-10.7 M473.60,673.22h5.4 M755.20,673.22h-5.4 M473.60,596.46h5.4 M755.20,596.46h-5.4 M473.60,519.70h5.4 M755.20,519.70h-5.4" stroke="#000" stroke-width="1.5" fill="none"/>
<text transform="translate(463.4,718.0) scale(1.13,1)" text-anchor="end" class="tk">6</text>
<text transform="translate(463.4,641.2) scale(1.13,1)" text-anchor="end" class="tk">7</text>
<text transform="translate(463.4,564.5) scale(1.13,1)" text-anchor="end" class="tk">8</text>
<text transform="translate(536.6,733.6) scale(1.13,1)" text-anchor="middle" class="tk">3000</text>
<text transform="translate(631.7,733.6) scale(1.13,1)" text-anchor="middle" class="tk">6000</text>
<text transform="translate(726.8,733.6) scale(1.13,1)" text-anchor="middle" class="tk">9000</text>
<path d="M86.9,266.3H369.0 M86.9,489.0H369.0" stroke="#000" stroke-width="1.7" fill="none"/>
<rect x="86.9" y="43.2" width="282.10" height="668.40" fill="none" stroke="#000" stroke-width="1.6"/>
<path d="M473.6,266.3H755.2 M473.6,489.0H755.2" stroke="#000" stroke-width="1.7" fill="none"/>
<rect x="473.6" y="43.2" width="281.60" height="668.40" fill="none" stroke="#000" stroke-width="1.6"/>
<text transform="translate(230.4,78.4) scale(1.1,1)" class="sf" font-size="19.7" textLength="111.3" lengthAdjust="spacing" style="fill:#000;stroke:#000;stroke-width:0.3" xml:space="preserve">crustal field</text>
<text transform="translate(563.0,70.8) scale(1.0,1)" class="sf" font-size="19.7" textLength="82.9" lengthAdjust="spacing" style="fill:#0000ff;stroke:#0000ff;stroke-width:0.3" xml:space="preserve">Puppis A</text>
<text transform="translate(669.4,88.3) scale(1.0,1)" class="sf" font-size="19.7" textLength="72.5" lengthAdjust="spacing" style="fill:#ff8c00;stroke:#ff8c00;stroke-width:0.3" xml:space="preserve">1E 1207</text>
<text transform="translate(667.9,212.5) scale(1.0,1)" class="sf" font-size="19.7" textLength="62.3" lengthAdjust="spacing" style="fill:#ff0000;stroke:#ff0000;stroke-width:0.3" xml:space="preserve">Kes 79</text>
<text transform="translate(36.1,214.6) rotate(-90) scale(1.0,1)" class="sf" font-size="22.5" font-style="italic" style="fill:#000;stroke:#000;stroke-width:0.25">B</text>
<text transform="translate(42.3,197.8) rotate(-90) scale(1.0,1)" class="sf" font-size="14" style="fill:#000;stroke:#000;stroke-width:0.25">p</text>
<text transform="translate(35.3,179.4) rotate(-90) scale(1.15,1)" class="sf" font-size="22.5" style="fill:#000;stroke:#000;stroke-width:0.25">(</text>
<text transform="translate(35.3,169.2) rotate(-90) scale(1.0,1)" class="sf" font-size="22.5" style="fill:#000;stroke:#000;stroke-width:0.25">10</text>
<text transform="translate(30.4,144.7) rotate(-90) scale(1.0,1)" class="sf" font-size="14" style="fill:#000;stroke:#000;stroke-width:0.25">10</text>
<text transform="translate(35.3,119.8) rotate(-90) scale(0.82,1)" class="sf" font-size="22.5" style="fill:#000;stroke:#000;stroke-width:0.25">G</text>
<text transform="translate(35.3,105.1) rotate(-90) scale(1.15,1)" class="sf" font-size="22.5" style="fill:#000;stroke:#000;stroke-width:0.25">)</text>
<text transform="translate(35.7,461.8) rotate(-90) scale(1.0,1)" class="sf" font-size="22.5" textLength="30.6" lengthAdjust="spacing" style="fill:#000;stroke:#000;stroke-width:0.25">log</text>
<path d="M39.9,417.4H19.1" stroke="#000" stroke-width="1.4" fill="none"/>
<text transform="translate(35.7,415.0) rotate(-90) scale(1.0,1)" class="sf" font-size="22.5" font-style="italic" style="fill:#000;stroke:#000;stroke-width:0.25">B</text>
<circle cx="17.8" cy="408.9" r="1.35" fill="#000"/>
<text transform="translate(42.0,400.6) rotate(-90) scale(1.0,1)" class="sf" font-size="14" style="fill:#000;stroke:#000;stroke-width:0.25">p</text>
<path d="M39.9,390.0H19.1" stroke="#000" stroke-width="1.4" fill="none"/>
<text transform="translate(35.7,376.8) rotate(-90) scale(1.15,1)" class="sf" font-size="22.5" style="fill:#000;stroke:#000;stroke-width:0.25">(</text>
<text transform="translate(35.7,367.8) rotate(-90) scale(0.82,1)" class="sf" font-size="22.5" style="fill:#000;stroke:#000;stroke-width:0.25">G</text>
<text transform="translate(35.7,342.4) rotate(-90) scale(1.0,1)" class="sf" font-size="22.5" textLength="19.8" lengthAdjust="spacing" style="fill:#000;stroke:#000;stroke-width:0.25">yr</text>
<text transform="translate(30.1,318.9) rotate(-90) scale(1.0,1)" class="sf" font-size="14" style="fill:#000;stroke:#000;stroke-width:0.25">−1</text>
<text transform="translate(35.7,302.0) rotate(-90) scale(1.15,1)" class="sf" font-size="22.5" style="fill:#000;stroke:#000;stroke-width:0.25">)</text>
<text transform="translate(50.8,633.4) rotate(-90) scale(1.0,1)" class="sf" font-size="22.5" textLength="30.4" lengthAdjust="spacing" style="fill:#000;stroke:#000;stroke-width:0.25">log</text>
<path d="M55.0,588.8H34.2" stroke="#000" stroke-width="1.4" fill="none"/>
<text transform="translate(50.8,586.8) rotate(-90) scale(1.0,1)" class="sf" font-size="22.5" font-style="italic" style="fill:#000;stroke:#000;stroke-width:0.25">n</text>
<path d="M55.0,569.9H34.2" stroke="#000" stroke-width="1.4" fill="none"/>
<text transform="translate(413.0,221.6) rotate(-90) scale(1.0,1)" class="sf" font-size="22.5" textLength="30.9" lengthAdjust="spacing" style="fill:#000;stroke:#000;stroke-width:0.25">log</text>
<text transform="translate(413.0,181.2) rotate(-90) scale(1.0,1)" class="sf" font-size="22.5" font-style="italic" style="fill:#000;stroke:#000;stroke-width:0.25">P</text>
<circle cx="395.7" cy="173.9" r="1.35" fill="#000"/>
<text transform="translate(413.0,154.6) rotate(-90) scale(1.15,1)" class="sf" font-size="22.5" style="fill:#000;stroke:#000;stroke-width:0.25">(</text>
<text transform="translate(413.0,145.6) rotate(-90) scale(1.1,1)" class="sf" font-size="22.5" style="fill:#000;stroke:#000;stroke-width:0.25">s</text>
<text transform="translate(413.0,124.5) rotate(-90) scale(1.1,1)" class="sf" font-size="22.5" style="fill:#000;stroke:#000;stroke-width:0.25">s</text>
<text transform="translate(407.4,113.6) rotate(-90) scale(1.0,1)" class="sf" font-size="14" textLength="15.2" lengthAdjust="spacing" style="fill:#000;stroke:#000;stroke-width:0.25">−1</text>
<text transform="translate(413.0,95.6) rotate(-90) scale(1.15,1)" class="sf" font-size="22.5" style="fill:#000;stroke:#000;stroke-width:0.25">)</text>
<text transform="translate(427.2,461.3) rotate(-90) scale(1.0,1)" class="sf" font-size="22.5" textLength="29.6" lengthAdjust="spacing" style="fill:#000;stroke:#000;stroke-width:0.25">log</text>
<text transform="translate(427.2,422.0) rotate(-90) scale(1.0,1)" class="sf" font-size="22.5" font-style="italic" style="fill:#000;stroke:#000;stroke-width:0.25">E</text>
<circle cx="408.8" cy="414.1" r="1.35" fill="#000"/>
<text transform="translate(427.2,395.4) rotate(-90) scale(1.15,1)" class="sf" font-size="22.5" style="fill:#000;stroke:#000;stroke-width:0.25">(</text>
<text transform="translate(427.2,386.9) rotate(-90) scale(1.0,1)" class="sf" font-size="22.5" textLength="43.6" lengthAdjust="spacing" style="fill:#000;stroke:#000;stroke-width:0.25">ergs</text>
<text transform="translate(427.2,330.4) rotate(-90) scale(1.1,1)" class="sf" font-size="22.5" style="fill:#000;stroke:#000;stroke-width:0.25">s</text>
<text transform="translate(421.6,319.9) rotate(-90) scale(1.0,1)" class="sf" font-size="14" textLength="17.0" lengthAdjust="spacing" style="fill:#000;stroke:#000;stroke-width:0.25">−1</text>
<text transform="translate(427.2,302.3) rotate(-90) scale(1.15,1)" class="sf" font-size="22.5" style="fill:#000;stroke:#000;stroke-width:0.25">)</text>
<text transform="translate(436.5,656.4) rotate(-90) scale(1.0,1)" class="sf" font-size="22.5" textLength="29.4" lengthAdjust="spacing" style="fill:#000;stroke:#000;stroke-width:0.25">log</text>
<text transform="translate(436.5,617.1) rotate(-90) scale(1.5,1)" class="sf" font-size="22.5" font-style="italic" style="fill:#000;stroke:#000;stroke-width:0.1">τ</text>
<text transform="translate(442.8,602.7) rotate(-90) scale(1.0,1)" class="sf" font-size="14" style="fill:#000;stroke:#000;stroke-width:0.25">c</text>
<text transform="translate(436.5,587.2) rotate(-90) scale(1.15,1)" class="sf" font-size="22.5" style="fill:#000;stroke:#000;stroke-width:0.25">(</text>
<text transform="translate(436.5,576.1) rotate(-90) scale(1.2,1)" class="sf" font-size="22.5" textLength="19.2" lengthAdjust="spacing" style="fill:#000;stroke:#000;stroke-width:0.25">yr</text>
<text transform="translate(436.5,553.6) rotate(-90) scale(1.15,1)" class="sf" font-size="22.5" style="fill:#000;stroke:#000;stroke-width:0.25">)</text>
<text transform="translate(196.4,761.0) scale(1.0,1)" class="sf" font-size="22.5" font-style="italic" style="fill:#000;stroke:#000;stroke-width:0.25">t</text>
<text transform="translate(218.5,761.0) scale(1.15,1)" class="sf" font-size="22.5" style="fill:#000;stroke:#000;stroke-width:0.25">(</text>
<text transform="translate(226.1,761.0) scale(1.2,1)" class="sf" font-size="22.5" textLength="18.6" lengthAdjust="spacing" style="fill:#000;stroke:#000;stroke-width:0.25">yr</text>
<text transform="translate(250.3,761.0) scale(1.15,1)" class="sf" font-size="22.5" style="fill:#000;stroke:#000;stroke-width:0.25">)</text>
<text transform="translate(583.0,761.0) scale(1.0,1)" class="sf" font-size="22.5" font-style="italic" style="fill:#000;stroke:#000;stroke-width:0.25">t</text>
<text transform="translate(605.1,761.0) scale(1.15,1)" class="sf" font-size="22.5" style="fill:#000;stroke:#000;stroke-width:0.25">(</text>
<text transform="translate(612.7,761.0) scale(1.2,1)" class="sf" font-size="22.5" textLength="18.6" lengthAdjust="spacing" style="fill:#000;stroke:#000;stroke-width:0.25">yr</text>
<text transform="translate(636.9,761.0) scale(1.15,1)" class="sf" font-size="22.5" style="fill:#000;stroke:#000;stroke-width:0.25">)</text>
</svg>
</body></html>
